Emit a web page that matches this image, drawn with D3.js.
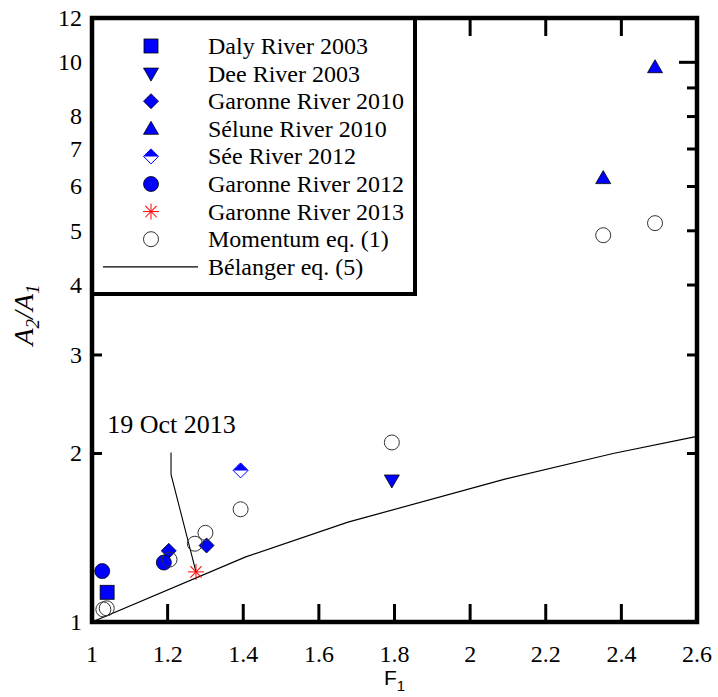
<!DOCTYPE html>
<html>
<head>
<meta charset="utf-8">
<script src="https://cdn.jsdelivr.net/npm/d3@7"></script>
<style>
  body { margin: 0; background: #fff; }
  text { font-family: "Liberation Serif", "Times New Roman", serif; fill: #000; }
</style>
</head>
<body>
<svg id="chart" width="718" height="697"></svg>
<script>
// tick values
const xTicks = [1, 1.2, 1.4, 1.6, 1.8, 2, 2.2, 2.4, 2.6];
const yTickLabels = [1, 2, 3, 4, 5, 6, 7, 8, 10, 12];
const yMinorTicks = [2, 3, 4, 5, 6, 7, 8, 9];
const yMajorTicks = [10];

// measured series (F1, A2/A1)
const dalyF = [1.04];
const dalyA = [1.13];
const deeF = [1.793];
const deeA = [1.79];
const garonne2010F = [1.203, 1.303];
const garonne2010A = [1.34, 1.37];
const seluneF = [2.352, 2.489];
const seluneA = [6.21, 9.8];
const seeF = [1.393];
const seeA = [1.866];
const garonne2012F = [1.027, 1.19];
const garonne2012A = [1.233, 1.277];
const garonne2013F = [1.275];
const garonne2013A = [1.229];
const momentumF = [1.03, 1.039, 1.205, 1.272, 1.30, 1.393, 1.793, 2.352, 2.489];
const momentumA = [1.053, 1.058, 1.293, 1.38, 1.443, 1.59, 2.093, 4.91, 5.16];

// Bélanger curve
const belangerF = [1.0, 1.405, 1.677, 2.092, 2.378, 2.6];
const belangerA = [1.0, 1.306, 1.508, 1.80, 2.0, 2.146];

// annotation "19 Oct 2013"
const noteLabel = '19 Oct 2013';
const noteTextF = 1.04, noteTextA = 2.18;
const noteLineF = [1.209, 1.209, 1.275];
const noteLineA = [2.009, 1.835, 1.229];

const series = [
  { name: 'Daly River 2003', f: dalyF, a: dalyA, sym: 'square' },
  { name: 'Dee River 2003', f: deeF, a: deeA, sym: 'triDown' },
  { name: 'Garonne River 2010', f: garonne2010F, a: garonne2010A, sym: 'diamond' },
  { name: 'Sélune River 2010', f: seluneF, a: seluneA, sym: 'triUp' },
  { name: 'Sée River 2012', f: seeF, a: seeA, sym: 'halfDiamond' },
  { name: 'Garonne River 2012', f: garonne2012F, a: garonne2012A, sym: 'circle' },
  { name: 'Garonne River 2013', f: garonne2013F, a: garonne2013A, sym: 'asterisk' },
  { name: 'Momentum eq. (1)', f: momentumF, a: momentumA, sym: 'open' }
];

const svg = d3.select('#chart');
const pL = 92, pR = 697, pT = 18, pB = 622;

const x = d3.scaleLinear().domain([1, 2.6]).range([pL, pR]);
const y = d3.scaleLog().domain([1, 12]).range([pB, pT]);

// draw one symbol centred on (cx, cy)
function drawSymbol(g, type, cx, cy) {
  const s = g.append('g').attr('transform', `translate(${cx},${cy})`);
  const blue = '#0000ff';
  if (type === 'square') {
    s.append('rect').attr('x', -7).attr('y', -7).attr('width', 14).attr('height', 14)
      .style('fill', blue).style('stroke', '#000').style('stroke-width', 0.8);
  } else if (type === 'triUp') {
    s.append('path').attr('d', 'M0,-7.5L7.5,5.5L-7.5,5.5Z')
      .style('fill', blue).style('stroke', '#000').style('stroke-width', 0.8);
  } else if (type === 'triDown') {
    s.append('path').attr('d', 'M0,7.5L7.5,-5.5L-7.5,-5.5Z')
      .style('fill', blue).style('stroke', '#000').style('stroke-width', 0.8);
  } else if (type === 'diamond') {
    s.append('path').attr('d', 'M0,-7.5L7.5,0L0,7.5L-7.5,0Z')
      .style('fill', blue).style('stroke', '#000').style('stroke-width', 0.8);
  } else if (type === 'halfDiamond') {
    s.append('path').attr('d', 'M0,-7.5L7.5,0L0,7.5L-7.5,0Z')
      .style('fill', '#fff').style('stroke', blue).style('stroke-width', 1);
    s.append('path').attr('d', 'M-7.5,0L0,-7.5L7.5,0Z').style('fill', blue);
  } else if (type === 'circle') {
    s.append('circle').attr('r', 7.5)
      .style('fill', blue).style('stroke', '#000').style('stroke-width', 0.8);
  } else if (type === 'open') {
    s.append('circle').attr('r', 7.5)
      .style('fill', 'none').style('stroke', '#333').style('stroke-width', 1);
  } else if (type === 'asterisk') {
    [0, 45, 90, 135].forEach(ang => {
      s.append('line').attr('x1', -8).attr('x2', 8).attr('y1', 0).attr('y2', 0)
        .attr('transform', `rotate(${ang})`)
        .style('stroke', '#ff0000').style('stroke-width', 1);
    });
  }
}

// ticks (inward)
const tickG = svg.append('g').style('stroke', '#000').style('stroke-width', 3);
xTicks.slice(1, -1).forEach(v => {
  tickG.append('line').attr('x1', x(v)).attr('x2', x(v)).attr('y1', pB).attr('y2', pB - 18);
  tickG.append('line').attr('x1', x(v)).attr('x2', x(v)).attr('y1', pT).attr('y2', pT + 18);
});
yMinorTicks.forEach(v => {
  tickG.append('line').attr('x1', pL).attr('x2', pL + 10).attr('y1', y(v)).attr('y2', y(v));
  tickG.append('line').attr('x1', pR).attr('x2', pR - 10).attr('y1', y(v)).attr('y2', y(v));
});
yMajorTicks.forEach(v => {
  tickG.append('line').attr('x1', pL).attr('x2', pL + 18).attr('y1', y(v)).attr('y2', y(v));
  tickG.append('line').attr('x1', pR).attr('x2', pR - 18).attr('y1', y(v)).attr('y2', y(v));
});

// tick labels
svg.append('g').selectAll('text').data(xTicks).enter().append('text')
  .attr('x', d => x(d)).attr('y', 662)
  .attr('text-anchor', 'middle')
  .style('font-size', '24px')
  .text(d => d);

svg.append('g').selectAll('text').data(yTickLabels).enter().append('text')
  .attr('x', 82).attr('y', d => y(d)).attr('dy', '0.33em')
  .attr('text-anchor', 'end')
  .style('font-size', '24px')
  .text(d => d);

// Bélanger line
const belLine = d3.line().x(d => x(d[0])).y(d => y(d[1]));
svg.append('path')
  .datum(belangerF.map((f, i) => [f, belangerA[i]]))
  .attr('d', belLine)
  .style('fill', 'none').style('stroke', '#000').style('stroke-width', 1.2);

// annotation leader line
svg.append('path')
  .datum(noteLineF.map((f, i) => [f, noteLineA[i]]))
  .attr('d', belLine)
  .style('fill', 'none').style('stroke', '#000').style('stroke-width', 1.1);

svg.append('text')
  .attr('x', x(noteTextF)).attr('y', y(noteTextA))
  .style('font-size', '26px')
  .text(noteLabel);

// data points
const ptsG = svg.append('g');
series.forEach(s => {
  s.f.forEach((f, i) => drawSymbol(ptsG, s.sym, x(f), y(s.a[i])));
});

// legend
const leg = svg.append('g');
leg.append('rect').attr('x', pL).attr('y', pT).attr('width', 415 - pL).attr('height', 294 - pT)
  .style('fill', '#fff').style('stroke', '#000').style('stroke-width', 4);
const rowH = 27.6;
series.forEach((s, i) => {
  const cy = 46 + i * rowH;
  drawSymbol(leg, s.sym, 151, cy);
  leg.append('text').attr('x', 208).attr('y', cy + 8).style('font-size', '24px').text(s.name);
});
const belRow = 46 + series.length * rowH;
leg.append('line').attr('x1', 103).attr('x2', 198).attr('y1', belRow).attr('y2', belRow)
  .style('stroke', '#000').style('stroke-width', 1.2);
leg.append('text').attr('x', 208).attr('y', belRow + 8).style('font-size', '24px').text('Bélanger eq. (5)');

// frame
svg.append('rect').attr('x', pL).attr('y', pT).attr('width', pR - pL).attr('height', pB - pT)
  .style('fill', 'none').style('stroke', '#000').style('stroke-width', 4.5);

// axis titles
const yt = svg.append('text')
  .attr('transform', 'translate(33,315) rotate(-90)')
  .attr('text-anchor', 'middle')
  .style('font-size', '28px').style('font-style', 'italic');
yt.append('tspan').text('A');
yt.append('tspan').attr('dy', 6).style('font-size', '19px').text('2');
yt.append('tspan').attr('dy', -6).text('/A');
yt.append('tspan').attr('dy', 6).style('font-size', '19px').text('1');

const xt = svg.append('text')
  .attr('x', x(1.8)).attr('y', 685)
  .attr('text-anchor', 'middle')
  .style('font-family', '"Liberation Sans", Arial, sans-serif')
  .style('font-size', '21px');
xt.append('tspan').text('F');
xt.append('tspan').attr('dy', 6).style('font-size', '15px').text('1');
</script>
</body>
</html>
